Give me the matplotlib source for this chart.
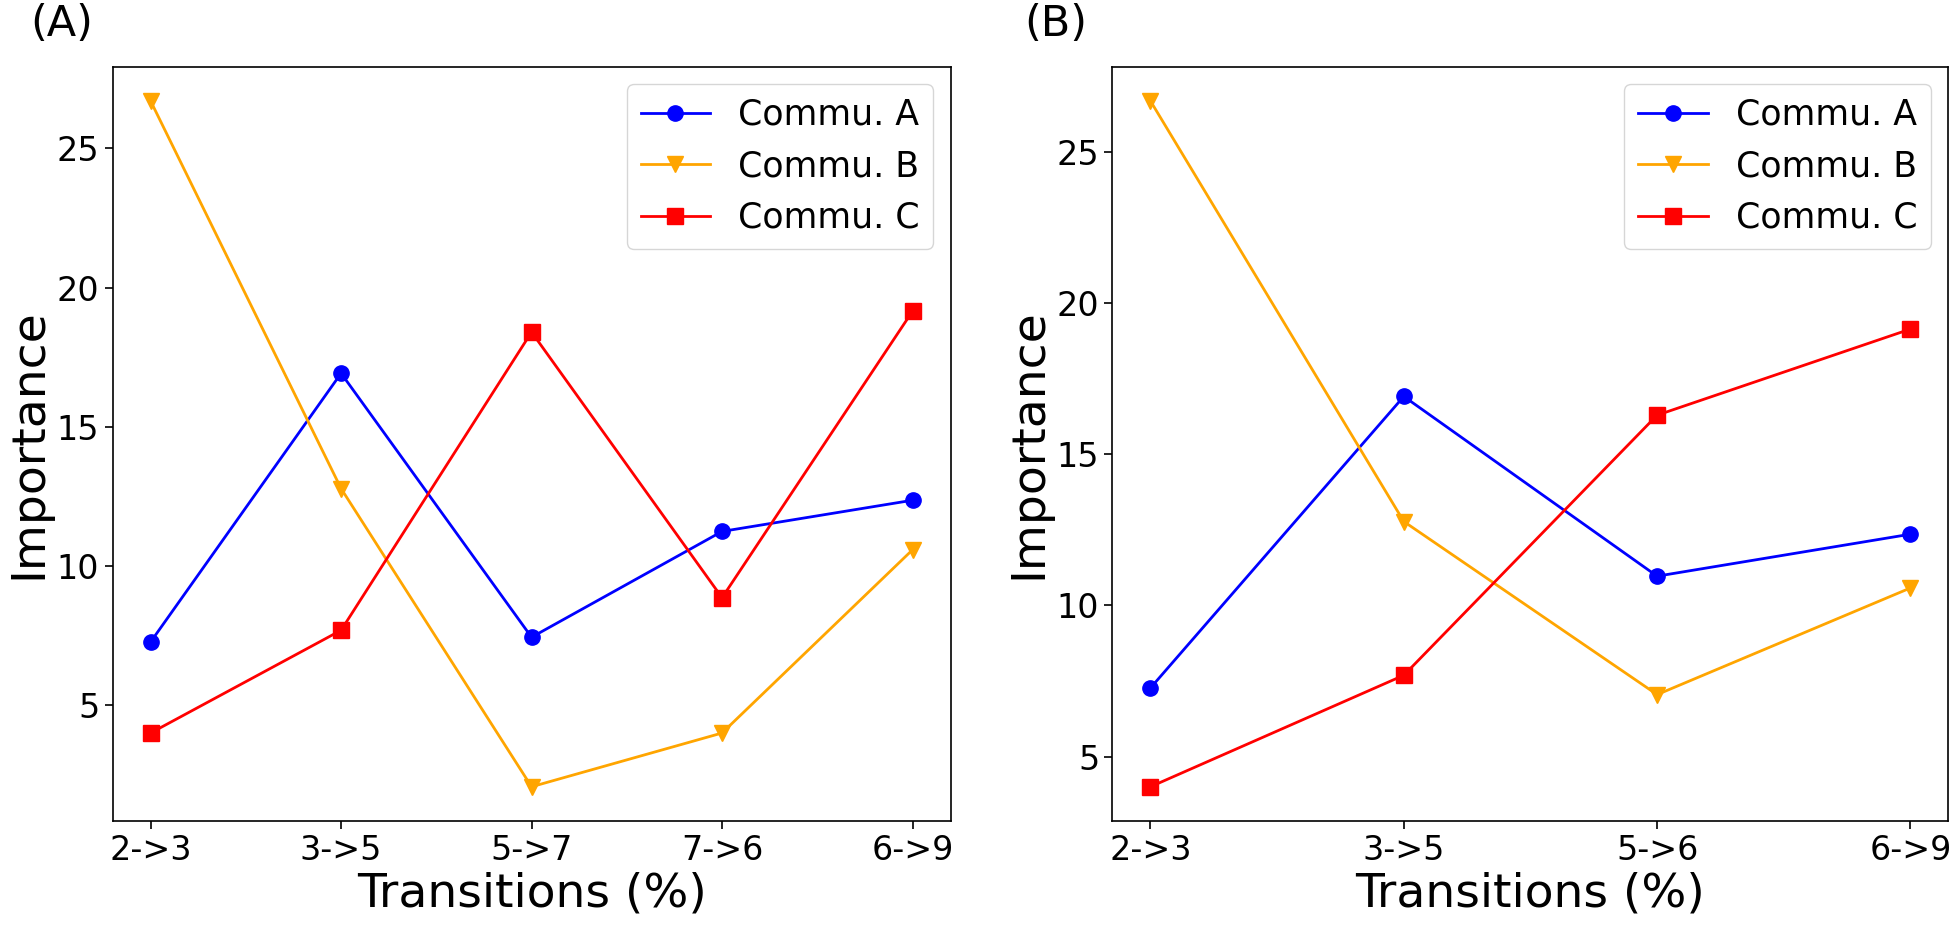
import matplotlib.pyplot as plt

# panel A
trans_a = ['2->3', '3->5', '5->7', '7->6', '6->9']
comm_a_a = [7.27, 16.92, 7.44, 11.24, 12.36]
comm_b_a = [26.7, 12.78, 2.07, 4.0, 10.58]
comm_c_a = [4.0, 7.69, 18.4, 8.86, 19.15]

# panel B
trans_b = ['2->3', '3->5', '5->6', '6->9']
comm_a_b = [7.27, 16.92, 10.97, 12.36]
comm_b_b = [26.7, 12.78, 7.05, 10.58]
comm_c_b = [4.0, 7.69, 16.3, 19.15]

labels = ['Commu. A', 'Commu. B', 'Commu. C']

fig = plt.figure(figsize=(19.5, 9.25), dpi=100)
ax1 = fig.add_axes([0.0577, 0.1124, 0.4298, 0.8155])
ax2 = fig.add_axes([0.5705, 0.1124, 0.4287, 0.8155])

def draw(ax, trans, a, b, c):
    x = list(range(len(trans)))
    ax.plot(x, a, color='blue', marker='o', markersize=11, linewidth=2, label=labels[0])
    ax.plot(x, b, color='orange', marker='v', markersize=11, linewidth=2, label=labels[1])
    ax.plot(x, c, color='red', marker='s', markersize=11, linewidth=2, label=labels[2])
    ax.set_xticks(x)
    ax.set_xticklabels(trans)
    ax.set_yticks([5, 10, 15, 20, 25])
    ax.tick_params(labelsize=24, length=6, width=1.2)
    for s in ax.spines.values():
        s.set_linewidth(1.2)
    ax.set_xlabel('Transitions (%)', fontsize=34, labelpad=3)
    ax.set_ylabel('Importance', fontsize=34, labelpad=4)
    ax.legend(fontsize=25, loc='upper right')

draw(ax1, trans_a, comm_a_a, comm_b_a, comm_c_a)
draw(ax2, trans_b, comm_a_b, comm_b_b, comm_c_b)

fig.text(0.0155, 0.974, '(A)', fontsize=31, va='center', ha='left')
fig.text(0.5255, 0.974, '(B)', fontsize=31, va='center', ha='left')

plt.savefig('out.png', dpi=100)
